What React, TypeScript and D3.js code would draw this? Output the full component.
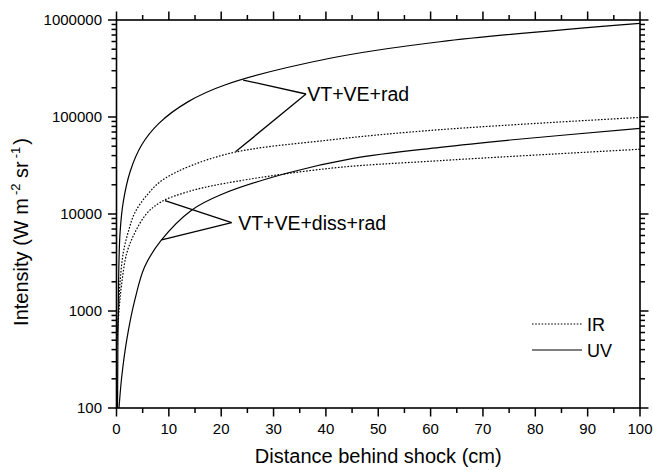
import React from "react";
import * as d3 from "d3";

// ---- data ----
const uvRadX = [0.2, 0.35, 0.67, 1.3, 2.6, 4.8, 8, 13.7, 20.7, 40.8, 61.8, 100];
const uvRadY = [100, 1300, 6300, 13400, 27300, 51400, 85000, 144000, 214000, 403000, 597000, 924000];

const irRadX = [0.05, 0.38, 0.67, 1.3, 2.3, 3.5, 6.1, 9.3, 20.7, 40.8, 61.8, 100];
const irRadY = [470, 1000, 1950, 4000, 6700, 10300, 16300, 23400, 41000, 58000, 74000, 99000];

const uvDissX = [0.48, 1.0, 1.95, 3.5, 5.4, 8.6, 14.4, 19.8, 32.5, 45.2, 61.8, 75.2, 100];
const uvDissY = [100, 210, 502, 1300, 2870, 5400, 11000, 15700, 26300, 37500, 48700, 57900, 76400];

const irDissX = [0.05, 0.48, 1.0, 1.95, 3.5, 5.8, 8.6, 13.7, 20.7, 40.8, 61.8, 100];
const irDissY = [450, 1020, 1930, 3930, 6400, 10150, 13400, 17000, 20700, 29600, 35500, 46500];

const xTicks = [0, 10, 20, 30, 40, 50, 60, 70, 80, 90, 100];
const xMinorTicks = [5, 15, 25, 35, 45, 55, 65, 75, 85, 95];
const yTicks = [100, 1000, 10000, 100000, 1000000];
const yTickLabels = ["100", "1000", "10000", "100000", "1000000"];

const legendLabels = ["IR", "UV"];
const annotationLabels = ["VT+VE+rad", "VT+VE+diss+rad"];
// annotation anchor [x, y] and leader targets (data units)
const annRadAnchor = [36.2, 172600];
const annRadTargets = [[24.2, 240600], [22.8, 44000]];
const annDissAnchor = [22.0, 8130];
const annDissTargets = [[9.26, 13700], [8.63, 5400]];

const xTitle = "Distance behind shock (cm)";

// ---- layout ----
const W = 653;
const H = 470;
const left = 116.5;
const right = 640;
const top = 20;
const bottom = 408;
const FONT = "'Liberation Sans', Arial, Helvetica, sans-serif";

export default function App() {
  const x = d3.scaleLinear().domain([0, 100]).range([left, right]);
  const y = d3.scaleLog().domain([100, 1000000]).range([bottom, top]);

  const line = d3
    .line<[number, number]>()
    .x((d) => x(d[0]))
    .y((d) => y(d[1]))
    .curve(d3.curveCatmullRom.alpha(0.5));

  const zip = (a: number[], b: number[]) => a.map((v, i) => [v, b[i]] as [number, number]);

  const series = [
    { pts: zip(uvRadX, uvRadY), dash: null },
    { pts: zip(irRadX, irRadY), dash: "1.6,1.6" },
    { pts: zip(uvDissX, uvDissY), dash: null },
    { pts: zip(irDissX, irDissY), dash: "1.6,1.6" },
  ];

  const yMinor: number[] = [];
  for (let k = 2; k <= 5; k++) {
    for (let m = 2; m <= 9; m++) yMinor.push(m * Math.pow(10, k));
  }

  const tickStroke = 1.5;
  const majorLen = 8.5;
  const minorLen = 5;

  return (
    <svg
      width={W}
      height={H}
      style={{ position: "absolute", left: 0, top: 0, background: "#fff" }}
      fontFamily={FONT}
    >
      <defs>
        <clipPath id="plotclip">
          <rect x={left} y={top} width={right - left} height={bottom - top} />
        </clipPath>
      </defs>
      <rect x={0} y={0} width={W} height={H} fill="#fff" />

      {/* curves */}
      <g clipPath="url(#plotclip)">
        {series.map((s, i) => (
          <path
            key={i}
            d={line(s.pts) || ""}
            fill="none"
            stroke="#000"
            strokeWidth={1.2}
            strokeDasharray={s.dash || undefined}
          />
        ))}
      </g>

      {/* frame */}
      <rect
        x={left}
        y={top}
        width={right - left}
        height={bottom - top}
        fill="none"
        stroke="#000"
        strokeWidth={1.6}
      />

      {/* x ticks bottom & top */}
      {xTicks.map((t) => (
        <g key={"xt" + t}>
          <line x1={x(t)} x2={x(t)} y1={bottom} y2={bottom + majorLen} stroke="#000" strokeWidth={tickStroke} />
          <line x1={x(t)} x2={x(t)} y1={top} y2={top - majorLen} stroke="#000" strokeWidth={tickStroke} />
          <text x={x(t)} y={434} textAnchor="middle" fontSize={15}>
            {t}
          </text>
        </g>
      ))}
      {xMinorTicks.map((t) => (
        <g key={"xm" + t}>
          <line x1={x(t)} x2={x(t)} y1={bottom} y2={bottom + minorLen} stroke="#000" strokeWidth={tickStroke} />
          <line x1={x(t)} x2={x(t)} y1={top} y2={top - minorLen} stroke="#000" strokeWidth={tickStroke} />
        </g>
      ))}

      {/* y ticks left & right */}
      {yTicks.map((t, i) => (
        <g key={"yt" + t}>
          <line x1={left} x2={left - majorLen} y1={y(t)} y2={y(t)} stroke="#000" strokeWidth={tickStroke} />
          <line x1={right} x2={right + majorLen} y1={y(t)} y2={y(t)} stroke="#000" strokeWidth={tickStroke} />
          <text x={102} y={y(t) + 5.3} textAnchor="end" fontSize={15}>
            {yTickLabels[i]}
          </text>
        </g>
      ))}
      {yMinor.map((t) => (
        <g key={"ym" + t}>
          <line x1={left} x2={left - minorLen} y1={y(t)} y2={y(t)} stroke="#000" strokeWidth={tickStroke} />
          <line x1={right} x2={right + minorLen} y1={y(t)} y2={y(t)} stroke="#000" strokeWidth={tickStroke} />
        </g>
      ))}

      {/* axis titles */}
      <text x={(left + right) / 2} y={463} textAnchor="middle" fontSize={20}>
        {xTitle}
      </text>
      <text transform={`translate(28,232) rotate(-90)`} textAnchor="middle" fontSize={20}>
        Intensity (W m
        <tspan fontSize={13} dx={3} dy={-8}>-2</tspan>
        <tspan dy={8}> sr</tspan>
        <tspan fontSize={13} dx={3} dy={-8}>-1</tspan>
        <tspan dx={2} dy={8}>)</tspan>
      </text>

      {/* annotations */}
      {annRadTargets.map((p, i) => (
        <line
          key={"ar" + i}
          x1={x(annRadAnchor[0])}
          y1={y(annRadAnchor[1])}
          x2={x(p[0])}
          y2={y(p[1])}
          stroke="#000"
          strokeWidth={1.3}
        />
      ))}
      <text x={x(annRadAnchor[0]) + 1.3} y={y(annRadAnchor[1]) + 6.5} fontSize={19.5}>
        {annotationLabels[0]}
      </text>
      {annDissTargets.map((p, i) => (
        <line
          key={"ad" + i}
          x1={x(annDissAnchor[0])}
          y1={y(annDissAnchor[1])}
          x2={x(p[0])}
          y2={y(p[1])}
          stroke="#000"
          strokeWidth={1.3}
        />
      ))}
      <text x={x(annDissAnchor[0]) + 6.5} y={y(annDissAnchor[1]) + 7.3} fontSize={19.5}>
        {annotationLabels[1]}
      </text>

      {/* legend */}
      {legendLabels.map((lab, i) => {
        const ly = 324 + i * 26;
        return (
          <g key={lab}>
            <line
              x1={532}
              x2={582}
              y1={ly}
              y2={ly}
              stroke="#000"
              strokeWidth={1.2}
              strokeDasharray={i === 0 ? "1.6,1.6" : undefined}
            />
            <text x={587} y={ly + 6.5} fontSize={18}>
              {lab}
            </text>
          </g>
        );
      })}
    </svg>
  );
}
